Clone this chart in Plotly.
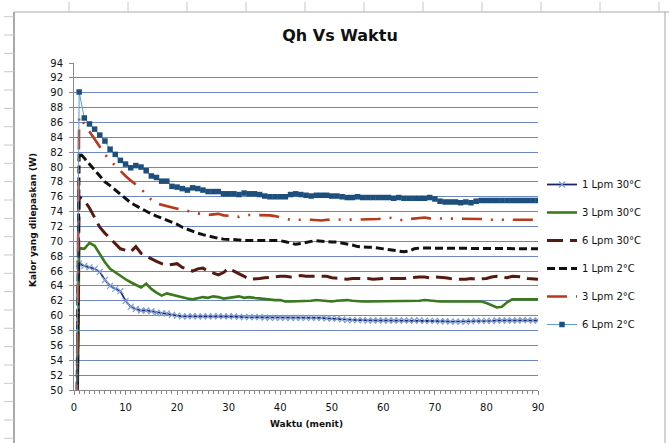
import plotly.graph_objects as go

minutes = list(range(0, 91))

series_names = ["1 Lpm 30°C", "3 Lpm 30°C", "6 Lpm 30°C", "1 Lpm 2°C", "3 Lpm 2°C", "6 Lpm 2°C"]

q_1lpm_30 = [0,
    67.0, 66.7, 66.5, 66.3, 65.9, 64.8, 64.0, 63.6, 63.3, 62.0,
    61.2, 60.9, 60.7, 60.7, 60.6, 60.4, 60.3, 60.3, 60.1, 60.0,
    59.9, 59.9, 59.95, 59.9, 59.9, 59.9, 59.9, 59.95, 59.9, 59.9,
    59.9, 59.85, 59.8, 59.8, 59.8, 59.8, 59.75, 59.7, 59.7, 59.7,
    59.7, 59.7, 59.7, 59.7, 59.7, 59.7, 59.7, 59.7, 59.65, 59.6,
    59.6, 59.5, 59.4, 59.4, 59.4, 59.4, 59.35, 59.35, 59.35, 59.35,
    59.35, 59.35, 59.35, 59.35, 59.35, 59.35, 59.35, 59.3, 59.3, 59.3,
    59.25, 59.25, 59.2, 59.2, 59.2, 59.2, 59.25, 59.3, 59.3, 59.3,
    59.3, 59.35, 59.35, 59.35, 59.35, 59.35, 59.4, 59.4, 59.35, 59.35]

q_3lpm_30 = [0,
    69.1, 69.0, 69.8, 69.4, 68.3, 67.2, 66.3, 65.8, 65.3, 64.9,
    64.5, 64.2, 63.8, 64.3, 63.6, 63.1, 62.7, 63.0, 62.8, 62.6,
    62.4, 62.3, 62.2, 62.4, 62.5, 62.4, 62.6, 62.5, 62.3, 62.4,
    62.5, 62.6, 62.4, 62.5, 62.4, 62.3, 62.2, 62.2, 62.1, 62.1,
    61.9, 61.9, 61.9, 61.9, 62.0, 62.0, 62.1, 62.0, 62.0, 61.9,
    62.0, 62.1, 62.1, 62.0, 61.9, 61.9, 61.9, 61.9, 61.9, 61.9,
    61.9, 61.9, 62.0, 61.9, 61.9, 61.9, 62.0, 62.1, 62.0, 61.9,
    61.9, 61.9, 61.9, 61.9, 61.9, 61.9, 62.0, 62.0, 61.9, 61.7,
    61.4, 61.1, 61.2, 61.8, 62.2, 62.2, 62.2, 62.2, 62.2, 62.2]

q_6lpm_30 = [0,
    76.0, 75.5, 74.5, 73.2, 71.9, 71.1, 70.4, 69.7, 69.0, 68.8,
    68.6, 69.3, 68.4, 68.0, 67.6, 67.3, 67.0, 66.8, 66.9, 67.0,
    66.5, 66.2, 66.0, 66.3, 66.4, 66.0, 65.7, 65.5, 65.8, 66.4,
    66.0, 65.7, 65.3, 64.9, 65.0, 65.0, 65.1, 65.2, 65.3, 65.3,
    65.3, 65.2, 65.3, 65.4, 65.3, 65.3, 65.2, 65.3, 65.3, 65.1,
    65.0, 65.0, 64.9, 65.0, 65.0, 65.1, 65.0, 64.9, 65.0, 65.0,
    65.0, 65.0, 64.9, 65.0, 65.1, 65.2, 65.2, 65.2, 65.1, 65.2,
    65.2, 65.1, 65.0, 64.9, 64.9, 64.9, 65.0, 64.9, 64.9, 65.0,
    65.2, 65.3, 65.2, 65.1, 65.3, 65.3, 65.2, 65.0, 64.9, 64.9]

q_1lpm_2 = [0,
    82.0, 81.2, 80.4, 79.6, 78.7, 78.0, 77.5, 76.9, 76.3, 75.7,
    75.2, 74.8, 74.4, 74.0, 73.7, 73.4, 73.15, 72.9, 72.6, 72.3,
    71.9, 71.6, 71.3, 71.1, 70.9, 70.7, 70.5, 70.4, 70.3, 70.3,
    70.2, 70.2, 70.1, 70.1, 70.1, 70.2, 70.2, 70.2, 70.2, 70.1,
    69.95, 69.8, 69.6, 69.7, 69.9, 70.0, 70.1, 70.0, 69.95, 69.9,
    69.9, 69.8, 69.7, 69.5, 69.3, 69.2, 69.2, 69.2, 69.1, 69.0,
    68.9, 68.8, 68.7, 68.6, 68.7, 69.0, 69.1, 69.1, 69.0, 69.0,
    69.0, 69.0, 69.0, 69.0, 69.0, 69.0, 69.0, 69.0, 69.0, 69.0,
    69.0, 69.0, 69.0, 69.0, 69.0, 69.0, 69.0, 69.0, 69.0, 69.0]

q_3lpm_2 = [0,
    86.8, 85.8, 84.8, 83.8, 82.7, 81.7, 80.9, 80.2, 79.4, 78.8,
    78.2, 77.6, 77.1, 76.3, 75.6, 75.1, 74.9, 74.8, 74.6, 74.4,
    74.3, 74.1, 73.9, 73.7, 73.6, 73.55, 73.6, 73.7, 73.5, 73.4,
    73.4, 73.3, 73.5, 73.55, 73.55, 73.55, 73.5, 73.5, 73.4, 73.2,
    73.0, 72.9, 72.9, 72.95, 72.9, 72.9, 72.85, 72.8, 72.9, 72.95,
    72.95, 72.9, 72.9, 72.9, 72.9, 72.9, 72.9, 72.9, 73.0, 73.1,
    73.2, 73.1, 72.9, 72.8, 73.0, 73.1, 73.1, 73.2, 73.1, 73.1,
    73.1, 73.1, 73.1, 73.1, 73.05, 73.0, 73.1, 73.1, 73.0, 72.9,
    72.9, 72.9, 72.9, 72.9, 72.9, 72.9, 72.9, 72.9, 72.9, 72.9]

q_6lpm_2 = [0,
    90.1, 86.6, 85.8, 85.1, 84.3, 83.5, 82.4, 81.7, 80.9, 80.4,
    79.9, 80.2, 80.0, 79.5, 78.8, 78.6, 78.1, 78.1, 77.4, 77.3,
    77.1, 76.9, 77.2, 77.1, 76.9, 76.7, 76.7, 76.7, 76.4, 76.4,
    76.4, 76.3, 76.5, 76.4, 76.4, 76.3, 76.1, 76.0, 76.0, 76.0,
    76.0, 76.3, 76.4, 76.3, 76.2, 76.1, 76.2, 76.2, 76.2, 76.1,
    76.1, 76.0, 75.9, 75.9, 76.0, 75.9, 75.9, 75.9, 75.9, 75.9,
    75.9, 75.8, 75.9, 75.8, 75.8, 75.8, 75.8, 75.8, 75.9, 75.7,
    75.4, 75.3, 75.3, 75.3, 75.2, 75.3, 75.2, 75.4, 75.5, 75.5,
    75.5, 75.5, 75.5, 75.5, 75.5, 75.5, 75.5, 75.5, 75.5, 75.5]

y_ticks = list(range(50, 95, 2))
x_ticks = list(range(0, 91, 10))

W, H = 669, 443
L, R, T, B = 74, 538, 63, 390

def px(x):
    return (x - L) / (R - L)

def py(y):
    return (B - y) / (B - T)

fig = go.Figure()

fig.add_trace(go.Scatter(
    x=minutes, y=q_1lpm_30, name=series_names[0], mode="lines+markers",
    line=dict(color="#1C2470", width=1.8),
    marker=dict(symbol="x-thin", size=6, line=dict(color="#7F9FD8", width=1.2)),
    legendgroup="a"))
fig.add_trace(go.Scatter(
    x=minutes, y=q_3lpm_30, name=series_names[1], mode="lines",
    line=dict(color="#3B7A1C", width=2.6),
    legendgroup="b"))
fig.add_trace(go.Scatter(
    x=minutes, y=q_6lpm_30, name=series_names[2], mode="lines",
    line=dict(color="#571A12", width=3, dash="16px,7px"),
    legendgroup="c"))
fig.add_trace(go.Scatter(
    x=minutes, y=q_1lpm_2, name=series_names[3], mode="lines",
    line=dict(color="#111111", width=3, dash="8px,4px"),
    legendgroup="d"))
fig.add_trace(go.Scatter(
    x=minutes, y=q_3lpm_2, name=series_names[4], mode="lines",
    line=dict(color="#B8391B", width=2.6, dash="20px,9px,2px,9px,2px,9px"),
    legendgroup="e"))
fig.add_trace(go.Scatter(
    x=minutes, y=q_6lpm_2, name=series_names[5], mode="lines+markers",
    line=dict(color="#5A9BD0", width=1),
    marker=dict(symbol="square", size=5.5, color="#1C4F7C"),
    legendgroup="f"))

shapes = []
grey = "#A8A8A8"
# chart area border
shapes.append(dict(type="line", xref="paper", yref="paper", x0=px(14), x1=px(14), y0=py(12), y1=py(450),
                   line=dict(color="#8C8C8C", width=1.5)))
shapes.append(dict(type="line", xref="paper", yref="paper", x0=px(14), x1=px(669), y0=py(12), y1=py(12),
                   line=dict(color=grey, width=1)))
shapes.append(dict(type="line", xref="paper", yref="paper", x0=px(665), x1=px(665), y0=py(12), y1=py(450),
                   line=dict(color=grey, width=1)))
# spreadsheet row / column marks
for k in range(25):
    yy = 16.7 + 18.33 * k
    if yy > 443:
        break
    shapes.append(dict(type="line", xref="paper", yref="paper", x0=px(4), x1=px(14), y0=py(yy), y1=py(yy),
                       line=dict(color="#C8C8C8", width=1)))
for k in range(-5, 7):
    xx = 305 + 59 * k
    if 14 < xx < 669:
        shapes.append(dict(type="line", xref="paper", yref="paper", x0=px(xx), x1=px(xx), y0=py(2), y1=py(12),
                           line=dict(color="#C8C8C8", width=1)))

annotations = [
    dict(text="<b>Waktu (menit)</b>", xref="paper", yref="paper", x=px(306), y=py(424),
         showarrow=False, font=dict(family="DejaVu Sans", size=9, color="#111"), xanchor="center", yanchor="middle"),
    dict(text="<b>Kalor yang dilepaskan (W)</b>", xref="paper", yref="paper", x=px(33), y=py(220),
         showarrow=False, textangle=-90, font=dict(family="DejaVu Sans", size=9, color="#111"),
         xanchor="center", yanchor="middle"),
]

fig.update_layout(
    width=W, height=H, autosize=False,
    margin=dict(l=L, r=W - R, t=T, b=H - B, pad=0),
    paper_bgcolor="white", plot_bgcolor="white",
    title=dict(text="<b>Qh Vs Waktu</b>", x=340 / W, xanchor="center", y=1 - 35 / H, yanchor="middle",
               font=dict(family="DejaVu Sans", size=16, color="#111")),
    font=dict(family="DejaVu Sans", size=10, color="#111"),
    showlegend=True,
    legend=dict(x=px(542), xanchor="left", y=py(170), yanchor="top", bgcolor="rgba(0,0,0,0)",
                font=dict(family="DejaVu Sans", size=10, color="#111"), tracegroupgap=9,
                itemwidth=30),
    shapes=shapes,
    annotations=annotations,
)

fig.update_xaxes(range=[0, 90], tickvals=x_ticks, showgrid=False, zeroline=False,
                 showline=True, linecolor="#888888", linewidth=1,
                 ticks="outside", ticklen=4, tickcolor="#888888", ticklabelstandoff=4,
                 minor=dict(dtick=1, ticks="outside", ticklen=3, tickcolor="#888888", showgrid=False),
                 tickfont=dict(family="DejaVu Sans", size=10, color="#111"))
fig.update_yaxes(range=[50, 94], tickvals=y_ticks, showgrid=True, gridcolor="#6E87C2", gridwidth=1,
                 zeroline=False, showline=True, linecolor="#888888", linewidth=1,
                 ticks="outside", ticklen=4, tickcolor="#888888", ticklabelstandoff=4,
                 tickfont=dict(family="DejaVu Sans", size=10, color="#111"))

fig.write_html("out.html", config={"displayModeBar": False},
               post_script="document.body.style.margin='0';document.body.style.padding='0';")
